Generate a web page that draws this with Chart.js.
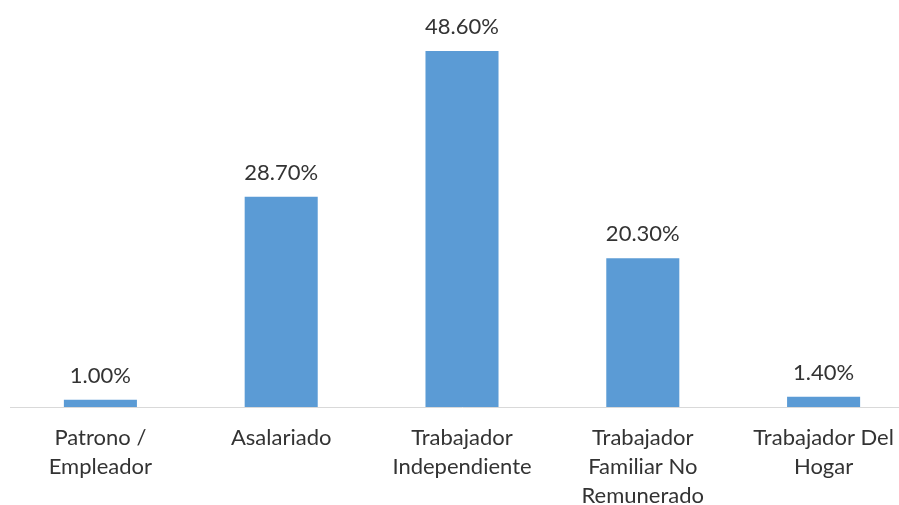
<!DOCTYPE html>
<html>
<head>
<meta charset="utf-8">
<script src="https://cdn.jsdelivr.net/npm/chart.js@4"></script>
<style>
html,body{margin:0;padding:0;background:#fff;overflow:hidden;}
#wrap{width:914px;height:505px;position:relative;}
</style>
</head>
<body>
<div id="wrap"><canvas id="c"></canvas></div>
<script>
const categories = [
  ["Patrono /", "Empleador"],
  ["Asalariado"],
  ["Trabajador", "Independiente"],
  ["Trabajador", "Familiar No", "Remunerado"],
  ["Trabajador Del", "Hogar"]
];
const values = [1.0, 28.7, 48.6, 20.3, 1.4];
const valueLabels = ["1.00%", "28.70%", "48.60%", "20.30%", "1.40%"];

const FONT = "Lato";
const TEXT = "#333333";

const labelPlugin = {
  id: 'valueLabels',
  afterDatasetsDraw(chart) {
    const ctx = chart.ctx;
    const meta = chart.getDatasetMeta(0);
    ctx.save();
    ctx.font = "22px " + FONT;
    ctx.fillStyle = TEXT;
    ctx.textAlign = 'center';
    ctx.textBaseline = 'alphabetic';
    meta.data.forEach((bar, i) => {
      ctx.fillText(valueLabels[i], bar.x, bar.y - 17);
    });
    ctx.restore();
  }
};

new Chart(document.getElementById('c'), {
  type: 'bar',
  data: {
    labels: categories,
    datasets: [{
      data: values,
      backgroundColor: '#5B9BD5',
      borderWidth: 0,
      barPercentage: 0.404,
      categoryPercentage: 1.0
    }]
  },
  options: {
    responsive: true,
    maintainAspectRatio: false,
    animation: false,
    devicePixelRatio: 1,
    layout: { padding: { top: 4, left: 10, right: 0, bottom: 0 } },
    plugins: { legend: { display: false }, tooltip: { enabled: false } },
    scales: {
      x: {
        grid: { display: false, drawTicks: false },
        border: { display: true, color: '#d9d9d9', width: 1 },
        ticks: {
          color: TEXT,
          font: { family: FONT, size: 22, lineHeight: 1.3 },
          padding: 17,
          maxRotation: 0,
          autoSkip: false
        },
        afterFit(scale) { scale.height = 98; }
      },
      y: {
        display: false,
        min: 0,
        max: 55
      }
    }
  },
  plugins: [labelPlugin]
});
</script>
</body>
</html>
